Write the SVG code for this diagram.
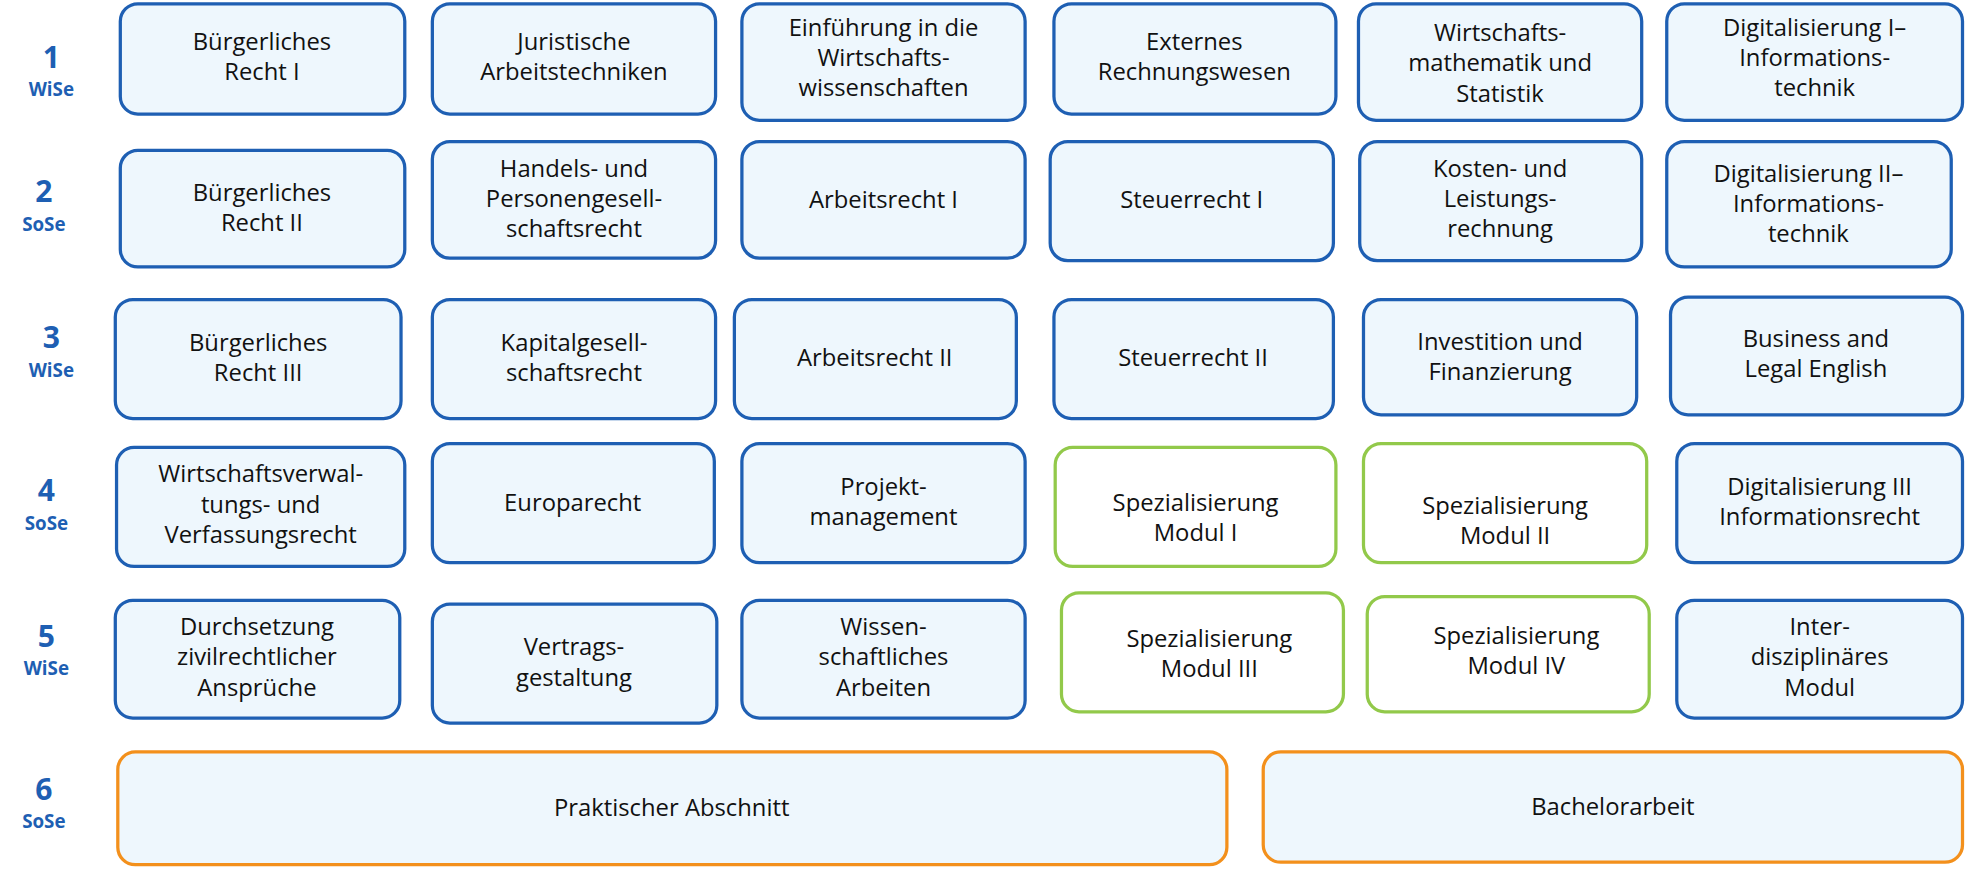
<svg xmlns="http://www.w3.org/2000/svg" width="1965" height="870" viewBox="0 0 1965 870">
<style>
.b{fill:#eef7fd;stroke:#1e5fb3;stroke-width:2.6}
.g{fill:#fff;stroke:#92c94a;stroke-width:2.6}
.o{fill:#eef7fd;stroke:#f3901c;stroke-width:2.6}
text{font-family:"Open Sans","DejaVu Sans",sans-serif;font-size:19px;fill:#111;text-anchor:middle}
.n{fill:#1e5fb3;font-weight:bold;font-size:24px}
.s{fill:#1e5fb3;font-weight:bold;font-size:15px}
</style>
<rect width="1965" height="870" fill="#fff"/>
<g transform="scale(1.2532)">
<g id="labels">
<text class="n" x="41" y="54">1</text><text class="s" x="41" y="77">WiSe</text>
<text class="n" x="35" y="161">2</text><text class="s" x="35" y="184">SoSe</text>
<text class="n" x="41" y="278">3</text><text class="s" x="41" y="301">WiSe</text>
<text class="n" x="37" y="400">4</text><text class="s" x="37" y="423">SoSe</text>
<text class="n" x="37" y="516">5</text><text class="s" x="37" y="539">WiSe</text>
<text class="n" x="35" y="638">6</text><text class="s" x="35" y="661">SoSe</text>
</g>
<g id="r1a"><rect class="b" x="96" y="3" width="227" height="88" rx="14"/><text x="209" y="40">Bürgerliches</text><text x="209" y="64">Recht I</text></g>
<g id="r1b"><rect class="b" x="345" y="3" width="226" height="88" rx="14"/><text x="458" y="40">Juristische</text><text x="458" y="64">Arbeitstechniken</text></g>
<g id="r1c"><rect class="b" x="592" y="3" width="226" height="93" rx="14"/><text x="705" y="29">Einführung in die</text><text x="705" y="53">Wirtschafts-</text><text x="705" y="77">wissenschaften</text></g>
<g id="r1d"><rect class="b" x="841" y="3" width="225" height="88" rx="14"/><text x="953" y="40">Externes</text><text x="953" y="64">Rechnungswesen</text></g>
<g id="r1e"><rect class="b" x="1084" y="3" width="226" height="93" rx="14"/><text x="1197" y="33">Wirtschafts-</text><text x="1197" y="57">mathematik und</text><text x="1197" y="81">Statistik</text></g>
<g id="r1f"><rect class="b" x="1330" y="3" width="236" height="93" rx="14"/><text x="1448" y="29">Digitalisierung I–</text><text x="1448" y="53">Informations-</text><text x="1448" y="77">technik</text></g>

<g id="r2a"><rect class="b" x="96" y="120" width="227" height="93" rx="14"/><text x="209" y="160">Bürgerliches</text><text x="209" y="184">Recht II</text></g>
<g id="r2b"><rect class="b" x="345" y="113" width="226" height="93" rx="14"/><text x="458" y="141">Handels- und</text><text x="458" y="165">Personengesell-</text><text x="458" y="189">schaftsrecht</text></g>
<g id="r2c"><rect class="b" x="592" y="113" width="226" height="93" rx="14"/><text x="705" y="166">Arbeitsrecht I</text></g>
<g id="r2d"><rect class="b" x="838" y="113" width="226" height="95" rx="14"/><text x="951" y="166">Steuerrecht I</text></g>
<g id="r2e"><rect class="b" x="1085" y="113" width="225" height="95" rx="14"/><text x="1197" y="141">Kosten- und</text><text x="1197" y="165">Leistungs-</text><text x="1197" y="189">rechnung</text></g>
<g id="r2f"><rect class="b" x="1330" y="113" width="227" height="100" rx="14"/><text x="1443" y="145">Digitalisierung II–</text><text x="1443" y="169">Informations-</text><text x="1443" y="193">technik</text></g>

<g id="r3a"><rect class="b" x="92" y="239" width="228" height="95" rx="14"/><text x="206" y="280">Bürgerliches</text><text x="206" y="304">Recht III</text></g>
<g id="r3b"><rect class="b" x="345" y="239" width="226" height="95" rx="14"/><text x="458" y="280">Kapitalgesell-</text><text x="458" y="304">schaftsrecht</text></g>
<g id="r3c"><rect class="b" x="586" y="239" width="225" height="95" rx="14"/><text x="698" y="292">Arbeitsrecht II</text></g>
<g id="r3d"><rect class="b" x="841" y="239" width="223" height="95" rx="14"/><text x="952" y="292">Steuerrecht II</text></g>
<g id="r3e"><rect class="b" x="1088" y="239" width="218" height="92" rx="14"/><text x="1197" y="279">Investition und</text><text x="1197" y="303">Finanzierung</text></g>
<g id="r3f"><rect class="b" x="1333" y="237" width="233" height="94" rx="14"/><text x="1449" y="277">Business and</text><text x="1449" y="301">Legal English</text></g>

<g id="r4a"><rect class="b" x="93" y="357" width="230" height="95" rx="14"/><text x="208" y="385">Wirtschaftsverwal-</text><text x="208" y="409">tungs- und</text><text x="208" y="433">Verfassungsrecht</text></g>
<g id="r4b"><rect class="b" x="345" y="354" width="225" height="95" rx="14"/><text x="457" y="408">Europarecht</text></g>
<g id="r4c"><rect class="b" x="592" y="354" width="226" height="95" rx="14"/><text x="705" y="395">Projekt-</text><text x="705" y="419">management</text></g>
<g id="r4d"><rect class="g" x="842" y="357" width="224" height="95" rx="14"/><text x="954" y="408">Spezialisierung</text><text x="954" y="432">Modul I</text></g>
<g id="r4e"><rect class="g" x="1088" y="354" width="226" height="95" rx="14"/><text x="1201" y="410">Spezialisierung</text><text x="1201" y="434">Modul II</text></g>
<g id="r4f"><rect class="b" x="1338" y="354" width="228" height="95" rx="14"/><text x="1452" y="395">Digitalisierung III</text><text x="1452" y="419">Informationsrecht</text></g>

<g id="r5a"><rect class="b" x="92" y="479" width="227" height="94" rx="14"/><text x="205" y="507">Durchsetzung</text><text x="205" y="531">zivilrechtlicher</text><text x="205" y="555">Ansprüche</text></g>
<g id="r5b"><rect class="b" x="345" y="482" width="227" height="95" rx="14"/><text x="458" y="523">Vertrags-</text><text x="458" y="547">gestaltung</text></g>
<g id="r5c"><rect class="b" x="592" y="479" width="226" height="94" rx="14"/><text x="705" y="507">Wissen-</text><text x="705" y="531">schaftliches</text><text x="705" y="555">Arbeiten</text></g>
<g id="r5d"><rect class="g" x="847" y="473" width="225" height="95" rx="14"/><text x="965" y="516">Spezialisierung</text><text x="965" y="540">Modul III</text></g>
<g id="r5e"><rect class="g" x="1091" y="476" width="225" height="92" rx="14"/><text x="1210" y="514">Spezialisierung</text><text x="1210" y="538">Modul IV</text></g>
<g id="r5f"><rect class="b" x="1338" y="479" width="228" height="94" rx="14"/><text x="1452" y="507">Inter-</text><text x="1452" y="531">disziplinäres</text><text x="1452" y="555">Modul</text></g>

<g id="r6a"><rect class="o" x="94" y="600" width="885" height="90" rx="14"/><text x="536" y="651">Praktischer Abschnitt</text></g>
<g id="r6b"><rect class="o" x="1008" y="600" width="558" height="88" rx="14"/><text x="1287" y="650">Bachelorarbeit</text></g>
<g id="connectors"/>
</g>
</svg>
